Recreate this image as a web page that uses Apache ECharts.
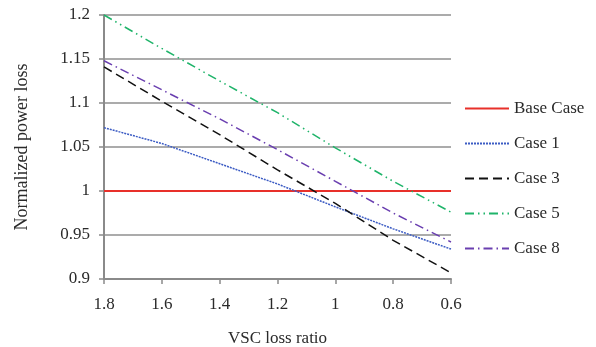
<!DOCTYPE html>
<html>
<head>
<meta charset="utf-8">
<script src="https://cdn.jsdelivr.net/npm/echarts@6/dist/echarts.min.js"></script>
<style>
  html, body { margin: 0; padding: 0; background: #fff; }
  #chart { width: 596px; height: 347px; }
</style>
</head>
<body>
<div id="chart"></div>
<script>
// VSC loss ratio (x axis runs from 1.8 down to 0.6)
const ratios = [1.8, 1.6, 1.4, 1.2, 1.0, 0.8, 0.6];

const baseCase = [1, 1, 1, 1, 1, 1, 1];
const case1 = [1.072, 1.054, 1.031, 1.008, 0.982, 0.957, 0.934];
const case3 = [1.141, 1.102, 1.064, 1.024, 0.986, 0.944, 0.907];
const case5 = [1.200, 1.162, 1.125, 1.089, 1.049, 1.011, 0.976];
const case8 = [1.148, 1.115, 1.082, 1.047, 1.011, 0.975, 0.942];

const font = '"Liberation Serif", "DejaVu Serif", serif';

function pairs(vals) {
  return ratios.map((r, i) => [r, vals[i]]);
}

function line(name, vals, color, type, width) {
  return {
    name: name,
    type: 'line',
    data: pairs(vals),
    symbol: 'none',
    lineStyle: { color: color, width: width || 1.5, type: type },
    itemStyle: { color: color },
  };
}

const chart = echarts.init(document.getElementById('chart'));
const option = {
  animation: false,
  textStyle: { fontFamily: font },
  grid: { left: 104, right: 145, top: 15, bottom: 68, outerBoundsMode: 'none', containLabel: false },
  legend: {
    orient: 'vertical',
    left: 459,
    top: 95,
    itemWidth: 44,
    itemHeight: 10,
    itemGap: 18,
    itemStyle: { opacity: 0 },
    textStyle: { fontFamily: font, fontSize: 17, color: '#2a2a2a' },
    data: ['Base Case', 'Case 1', 'Case 3', 'Case 5', 'Case 8'],
  },
  xAxis: {
    type: 'value',
    inverse: true,
    min: 0.6,
    max: 1.8,
    interval: 0.2,
    name: 'VSC loss ratio',
    nameLocation: 'middle',
    nameGap: 51,
    nameTextStyle: { fontFamily: font, fontSize: 17, color: '#2a2a2a' },
    axisLine: { show: true, lineStyle: { color: '#8a8a8a', width: 2 } },
    axisTick: { show: true, length: 5, lineStyle: { color: '#8a8a8a', width: 1.5 } },
    axisLabel: { fontFamily: font, fontSize: 17, color: '#2a2a2a', margin: 17 },
    splitLine: { show: false },
  },
  yAxis: {
    type: 'value',
    min: 0.9,
    max: 1.2,
    interval: 0.05,
    name: 'Normalized power loss',
    nameLocation: 'middle',
    nameGap: 73,
    nameTextStyle: { fontFamily: font, fontSize: 18, color: '#2a2a2a' },
    axisLine: { show: true, lineStyle: { color: '#8a8a8a', width: 2 } },
    axisTick: { show: true, length: 5, lineStyle: { color: '#8a8a8a', width: 1.5 } },
    axisLabel: { fontFamily: font, fontSize: 17, color: '#2a2a2a', margin: 14 },
    splitLine: { show: true, lineStyle: { color: '#8f8f8f', width: 1.5 } },
  },
  series: [
    line('Base Case', baseCase, '#e8302a', 'solid', 2),
    line('Case 1', case1, '#3c5cc4', [2, 1]),
    line('Case 3', case3, '#111111', [9, 5]),
    line('Case 5', case5, '#1fb46a', [9, 4, 1.5, 4, 1.5, 4]),
    line('Case 8', case8, '#6a3fb0', [9, 4, 1.5, 4]),
  ],
};

chart.setOption(option);
</script>
</body>
</html>
